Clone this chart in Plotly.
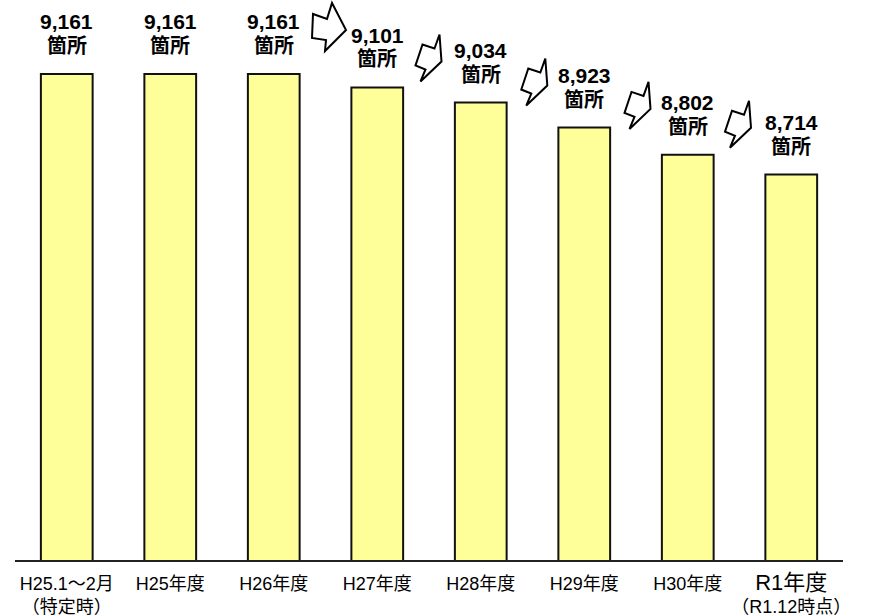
import plotly.graph_objects as go

categories = ["H25.1～2月<br>（特定時）", "H25年度", "H26年度", "H27年度", "H28年度",
              "H29年度", "H30年度",
              "<span style='font-size:22px'>R1年度</span><br>（R1.12時点）"]
values = [9161, 9161, 9161, 9101, 9034, 8923, 8802, 8714]
value_labels = ["9,161", "9,161", "9,161", "9,101", "9,034", "8,923", "8,802", "8,714"]
unit_label = "箇所"

FONT = "Liberation Sans, Arial, Noto Sans CJK JP"
xpos = list(range(len(values)))

fig = go.Figure()
fig.add_trace(go.Bar(
    x=xpos, y=values, width=0.5,
    marker=dict(color="#FFFF99", line=dict(color="#111111", width=2)),
    hoverinfo="skip",
))

for i, (v, lab) in enumerate(zip(values, value_labels)):
    fig.add_annotation(x=i, y=v, xref="x", yref="y", text=f"<b>{lab}</b>",
                       showarrow=False, yanchor="middle", yshift=52,
                       font=dict(family=FONT, size=21, color="#000"))
    fig.add_annotation(x=i, y=v, xref="x", yref="y", text=f"<b>{unit_label}</b>",
                       showarrow=False, yanchor="middle", yshift=28,
                       font=dict(family=FONT, size=20, color="#000"))

# decorative block arrows between bars (pixel paths anchored at bar boundary / bar top)
shape_a = [(0, 0), (14, 27), (-7, 48), (-6, 37), (-20, 35), (-19, 11), (-5, 16)]
shape_b = [(0, 0), (2, 27), (-19, 47), (-14, 35), (-24, 31), (-17, 10), (-5, 14)]
arrows = [  # (left bar index, dx, dy, shape)
    (2, 6.5, -71, shape_a),
    (3, 10.5, -53, shape_b),
    (4, 12.8, -44, shape_b),
    (5, 12.5, -45.6, shape_b),
    (6, 9.5, -54, shape_b),
]
for idx, dx, dy, shp in arrows:
    pts = [(dx + px, -(dy + py)) for px, py in shp]
    path = "M " + " L ".join(f"{px:.1f},{py:.1f}" for px, py in pts) + " Z"
    fig.add_shape(type="path", xref="x", yref="y", xsizemode="pixel", ysizemode="pixel",
                  xanchor=idx + 0.5, yanchor=values[idx], path=path,
                  fillcolor="white", line=dict(color="black", width=2), layer="above")

fig.update_layout(
    width=879, height=616,
    margin=dict(l=15, r=36, t=0, b=56),
    paper_bgcolor="white", plot_bgcolor="white",
    showlegend=False,
    font=dict(family=FONT, size=18, color="#000"),
    xaxis=dict(range=[-0.5, len(values) - 0.5], tickvals=xpos, ticktext=categories,
               showline=True, linecolor="#222", linewidth=2, showgrid=False,
               zeroline=False, ticks="", ticklabelstandoff=6,
               tickfont=dict(size=18, family=FONT)),
    yaxis=dict(range=[7000, 9490], visible=False, showgrid=False, zeroline=False),
)

fig.write_html("out.html")
